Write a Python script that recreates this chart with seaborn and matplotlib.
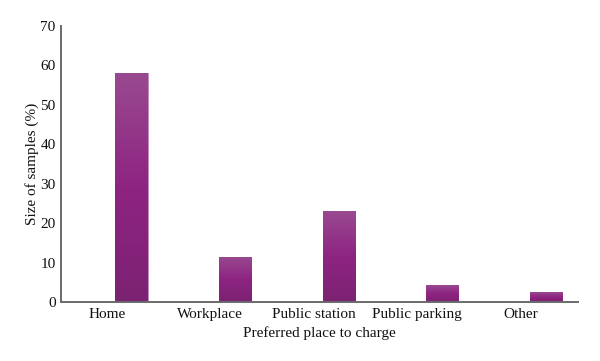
import matplotlib
matplotlib.use("Agg")
import matplotlib.pyplot as plt
from matplotlib.colors import LinearSegmentedColormap
import seaborn as sns
import numpy as np
import pandas as pd

places = ["Home", "Workplace", "Public station", "Public parking", "Other"]
samples = [58, 11.5, 23, 4.3, 2.5]

# blank first hue level pushes each bar to the right of its label
df = pd.DataFrame({
    "place": places * 2,
    "value": [0] * len(places) + samples,
    "group": ["pad"] * len(places) + ["samples"] * len(places),
})

sns.set_theme(style="white")
plt.rcParams["font.family"] = ["Liberation Serif", "DejaVu Serif"]

fig = plt.figure(figsize=(6, 3.61), dpi=100)
ax = fig.add_axes([0.102, 0.163, 0.861, 0.765])

sns.barplot(data=df, x="place", y="value", hue="group", order=places,
            palette=["white", "#8e2482"], width=0.96, gap=0.35,
            legend=False, ax=ax, linewidth=0)

grad = LinearSegmentedColormap.from_list("bar", ["#7c2272", "#8e2482", "#99498f"])
for p in ax.patches:
    h = p.get_height()
    if h <= 0:
        continue
    x0, w = p.get_x(), p.get_width()
    p.set_edgecolor("#c48abd")
    p.set_linewidth(0.6)
    im = ax.imshow(np.linspace(0, 1, 100).reshape(-1, 1), cmap=grad,
                   origin="lower", aspect="auto",
                   extent=[x0, x0 + w, 0, h], zorder=p.get_zorder() + 0.1)
    im.set_clip_path(p)

ax.set_xlim(-0.44, 4.55)
ax.set_ylim(0, 70)
ax.set_yticks(range(0, 71, 10))
for s in ["top", "right"]:
    ax.spines[s].set_visible(False)
for s in ["left", "bottom"]:
    ax.spines[s].set_color("#6a6a6a")
    ax.spines[s].set_linewidth(1.4)
ax.tick_params(axis="both", length=0, labelsize=11, colors="#111111", pad=4)
ax.set_xlabel("Preferred place to charge", fontsize=11, color="#111111", labelpad=4)
ax.set_ylabel("Size of samples (%)", fontsize=11, color="#111111", labelpad=1)

fig.savefig("out.png", dpi=100)
